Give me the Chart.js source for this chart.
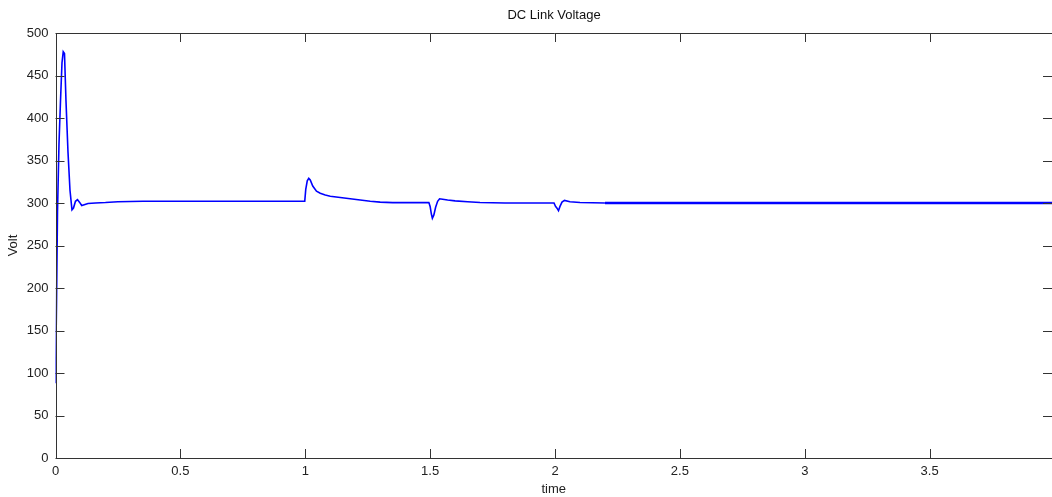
<!DOCTYPE html>
<html>
<head>
<meta charset="utf-8">
<script src="https://cdn.jsdelivr.net/npm/chart.js@4/dist/chart.umd.min.js"></script>
<style>
  html, body { margin: 0; padding: 0; background: #fff; }
  #wrap { width: 1052px; height: 497px; }
</style>
</head>
<body>
<div id="wrap"><canvas id="dcLink"></canvas></div>
<script>
// DC link voltage trace (time in s, voltage in V)
const timeS = [
  0, 0.004, 0.008, 0.014, 0.02, 0.026, 0.031, 0.036, 0.042, 0.05,
  0.058, 0.066, 0.072, 0.08, 0.088, 0.096, 0.105, 0.115, 0.13, 0.16,
  0.2, 0.25, 0.35, 0.5, 0.8, 0.998, 1.002, 1.008, 1.014, 1.02,
  1.03, 1.045, 1.06, 1.08, 1.1, 1.14, 1.18, 1.22, 1.26, 1.3,
  1.35, 1.45, 1.495, 1.5, 1.505, 1.509, 1.515, 1.522, 1.53, 1.538,
  1.55, 1.57, 1.6, 1.65, 1.7, 1.8, 1.9, 1.996, 2.002, 2.008,
  2.014, 2.02, 2.028, 2.038, 2.06, 2.1, 2.2, 2.5, 3.0, 3.5, 3.99,
];
const volt = [
  88, 180, 290, 370, 420, 465, 478, 476, 420, 360,
  315, 292, 294, 302, 304, 301, 297, 298, 299.5, 300,
  300.5, 301.5, 302, 302, 302, 302, 316, 326, 329, 327,
  320, 314, 311.5, 309.5, 308, 306.5, 305, 303.5, 302, 301,
  300.5, 300.5, 300.5, 296, 287, 282, 286, 295, 302, 305,
  304.5, 303.5, 302.5, 301.5, 300.5, 300, 300, 300, 296, 294,
  291, 296, 301, 303, 301.5, 300.5, 300, 300, 300, 300, 300,
];
const xTicks = [0, 0.5, 1, 1.5, 2, 2.5, 3, 3.5];
const yTicks = [0, 50, 100, 150, 200, 250, 300, 350, 400, 450, 500];

const FONT = 'Liberation Sans, Arial, sans-serif';

// box around the plot with ticks pointing inwards on all four sides
const matlabBox = {
  id: 'matlabBox',
  afterDraw(chart) {
    const { ctx, chartArea: a, scales: { x, y } } = chart;
    const len = 9;
    ctx.save();
    ctx.strokeStyle = '#333';
    ctx.lineWidth = 1;
    ctx.beginPath();
    ctx.rect(Math.round(a.left) + 0.5, Math.round(a.top) + 0.5,
      Math.round(a.right - a.left), Math.round(a.bottom - a.top));
    xTicks.forEach((t) => {
      const px = Math.round(x.getPixelForValue(t)) + 0.5;
      ctx.moveTo(px, a.bottom); ctx.lineTo(px, a.bottom - len);
      ctx.moveTo(px, a.top); ctx.lineTo(px, a.top + len);
    });
    yTicks.forEach((v) => {
      const py = Math.round(y.getPixelForValue(v)) + 0.5;
      ctx.moveTo(a.left, py); ctx.lineTo(a.left + len, py);
      ctx.moveTo(a.right, py); ctx.lineTo(a.right - len, py);
    });
    ctx.stroke();
    // title
    ctx.fillStyle = '#111';
    ctx.font = `13px ${FONT}`;
    ctx.textAlign = 'center';
    ctx.textBaseline = 'middle';
    ctx.fillText('DC Link Voltage', 554, 15);
    ctx.restore();
  },
};

const ctx = document.getElementById('dcLink').getContext('2d');
new Chart(ctx, {
  type: 'scatter',
  data: {
    datasets: [{
      label: 'Vdc',
      data: timeS.map((t, i) => ({ x: t, y: volt[i] })),
      showLine: true,
      borderColor: '#0000ff',
      borderWidth: 1.6,
      // steady-state tail carries a small switching ripple, drawn a bit heavier
      segment: { borderWidth: (c) => (c.p0.parsed.x >= 2.2 ? 2.4 : 1.6) },
      pointRadius: 0,
      tension: 0,
    }],
  },
  plugins: [matlabBox],
  options: {
    responsive: true,
    maintainAspectRatio: false,
    animation: false,
    layout: { padding: { top: 33, right: 0, left: 0, bottom: 0 } },
    plugins: { legend: { display: false }, tooltip: { enabled: false } },
    scales: {
      x: {
        type: 'linear',
        min: 0,
        max: 3.99,
        afterFit(scale) { scale.height = 39; },
        afterBuildTicks(scale) { scale.ticks = xTicks.map((v) => ({ value: v })); },
        grid: { display: false, drawTicks: false },
        border: { display: false },
        ticks: {
          padding: 6,
          color: '#222',
          font: { family: FONT, size: 13 },
          maxRotation: 0,
          callback: (v) => String(v),
        },
        title: {
          display: true,
          text: 'time',
          color: '#222',
          font: { family: FONT, size: 13 },
          padding: { top: 0, bottom: 0 },
        },
      },
      y: {
        min: 0,
        max: 500,
        afterFit(scale) { scale.width = 55.5; },
        afterBuildTicks(scale) { scale.ticks = yTicks.map((v) => ({ value: v })); },
        grid: { display: false, drawTicks: false },
        border: { display: false },
        ticks: {
          padding: 7,
          color: '#222',
          font: { family: FONT, size: 13 },
        },
        title: {
          display: true,
          text: 'Volt',
          color: '#222',
          font: { family: FONT, size: 13 },
          padding: { top: 6, bottom: 0 },
        },
      },
    },
  },
});
</script>
</body>
</html>
